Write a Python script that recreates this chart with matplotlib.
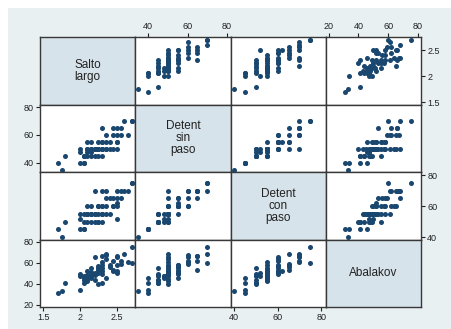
import matplotlib
matplotlib.use("Agg")
import matplotlib.pyplot as plt
from matplotlib.patches import Rectangle

plt.rcParams['font.family'] = ['Liberation Sans', 'DejaVu Sans']

# Data: one entry per athlete
salto_largo = [1.70, 1.75, 1.80, 2.00, 2.05, 2.05, 2.00, 2.05, 2.10, 2.15,
               2.10, 2.10, 2.15, 2.15, 2.20, 2.20, 2.25, 2.25, 2.25, 2.30,
               2.30, 2.30, 2.35, 2.30, 2.35, 2.40, 2.45, 2.45, 2.50, 2.50,
               2.50, 2.50, 2.55, 2.60, 2.65, 2.70, 2.70, 2.05, 2.10, 2.15,
               2.20, 2.25, 2.30, 2.35, 2.20, 2.25, 2.30, 2.40, 2.45, 2.15,
               2.35, 2.10, 2.00, 2.55, 2.30, 2.50]
detent_sin = [40, 35, 45, 40, 40, 40, 50, 45, 48, 45,
              50, 55, 48, 50, 50, 50, 45, 50, 55, 45,
              50, 55, 60, 50, 50, 50, 50, 65, 50, 55,
              60, 65, 65, 70, 60, 70, 70, 45, 50, 50,
              50, 50, 55, 55, 45, 50, 50, 55, 60, 55,
              50, 45, 48, 60, 65, 55]
detent_con = [45, 40, 50, 45, 45, 45, 55, 55, 50, 50,
              55, 60, 55, 55, 50, 70, 50, 55, 60, 50,
              55, 60, 70, 55, 65, 55, 60, 65, 52, 65,
              60, 70, 70, 70, 70, 75, 75, 50, 55, 55,
              55, 60, 60, 55, 55, 50, 55, 65, 60, 60,
              60, 55, 52, 65, 70, 62]
abalakov = [31, 33, 41, 34, 41, 46, 49, 47, 47, 49,
            45, 52, 46, 51, 48, 65, 55, 53, 50, 41,
            55, 58, 67, 61, 68, 58, 52, 53, 50, 58,
            65, 66, 62, 68, 61, 75, 60, 44, 43, 47,
            50, 57, 49, 46, 44, 40, 52, 56, 62, 55,
            64, 48, 47, 59, 66, 52]

names = ["Salto\nlargo", "Detent\nsin\npaso", "Detent\ncon\npaso", "Abalakov"]
series = [salto_largo, detent_sin, detent_con, abalakov]
ticks = [[1.5, 2, 2.5], [40, 60, 80], [40, 60, 80], [20, 40, 60, 80]]
tick_labels = [["1.5", "2", "2.5"], ["40", "60", "80"], ["40", "60", "80"],
               ["20", "40", "60", "80"]]
limits = [(1.455, 2.75), (33.4, 81.8), (38.5, 82.0), (18.1, 82.0)]

W, H = 452, 329
fig = plt.figure(figsize=(W / 100, H / 100), dpi=100)
fig.patch.set_facecolor("white")
bg = "#e8f0f2"
fig.patches.append(Rectangle((8 / W, 0), 1 - 8 / W, (H - 8) / H,
                             transform=fig.transFigure, facecolor=bg,
                             edgecolor="none", zorder=-10))

x0, y0 = 40, 37
cw, ch = 95.25, 67.5
marker_color = "#1a476f"
diag_color = "#d7e3ea"
spine_color = "#383838"

for r in range(4):
    for c in range(4):
        left = (x0 + c * cw) / W
        bottom = 1 - (y0 + (r + 1) * ch) / H
        ax = fig.add_axes([left, bottom, cw / W, ch / H])
        ax.set_zorder(5)
        ax.set_xlim(*limits[c])
        ax.set_ylim(*limits[r])
        for s in ax.spines.values():
            s.set_color(spine_color)
            s.set_linewidth(1.0)
        ax.tick_params(axis="both", which="both", length=0, labelsize=6.5,
                       colors="#222222", pad=1.5, width=0.8)
        ax.set_xticks([])
        ax.set_yticks([])
        if r == c:
            ax.set_facecolor(diag_color)
            ax.text(0.5, 0.5, names[r], transform=ax.transAxes, ha="center",
                    va="center", fontsize=8.5, color="#222222",
                    linespacing=1.0)
        else:
            ax.set_facecolor("white")
            ax.scatter(series[c], series[r], s=13, color=marker_color,
                       linewidths=0, zorder=3)
        # x axis ticks
        if r == 3 and c % 2 == 0:
            ax.set_xticks(ticks[c])
            ax.set_xticklabels(tick_labels[c])
            ax.tick_params(axis="x", length=3, bottom=True, top=False,
                           labelbottom=True)
        if r == 0 and c % 2 == 1:
            ax.set_xticks(ticks[c])
            ax.set_xticklabels(tick_labels[c])
            ax.tick_params(axis="x", length=3, bottom=False, top=True,
                           labelbottom=False, labeltop=True)
        # y axis ticks
        if c == 0 and r % 2 == 1:
            ax.set_yticks(ticks[r])
            ax.set_yticklabels(tick_labels[r])
            ax.tick_params(axis="y", length=3, left=True, right=False,
                           labelleft=True)
        if c == 3 and r % 2 == 0:
            ax.set_yticks(ticks[r])
            ax.set_yticklabels(tick_labels[r])
            ax.tick_params(axis="y", length=3, left=False, right=True,
                           labelleft=False, labelright=True)

fig.savefig("out.png", dpi=100, facecolor=fig.get_facecolor())
